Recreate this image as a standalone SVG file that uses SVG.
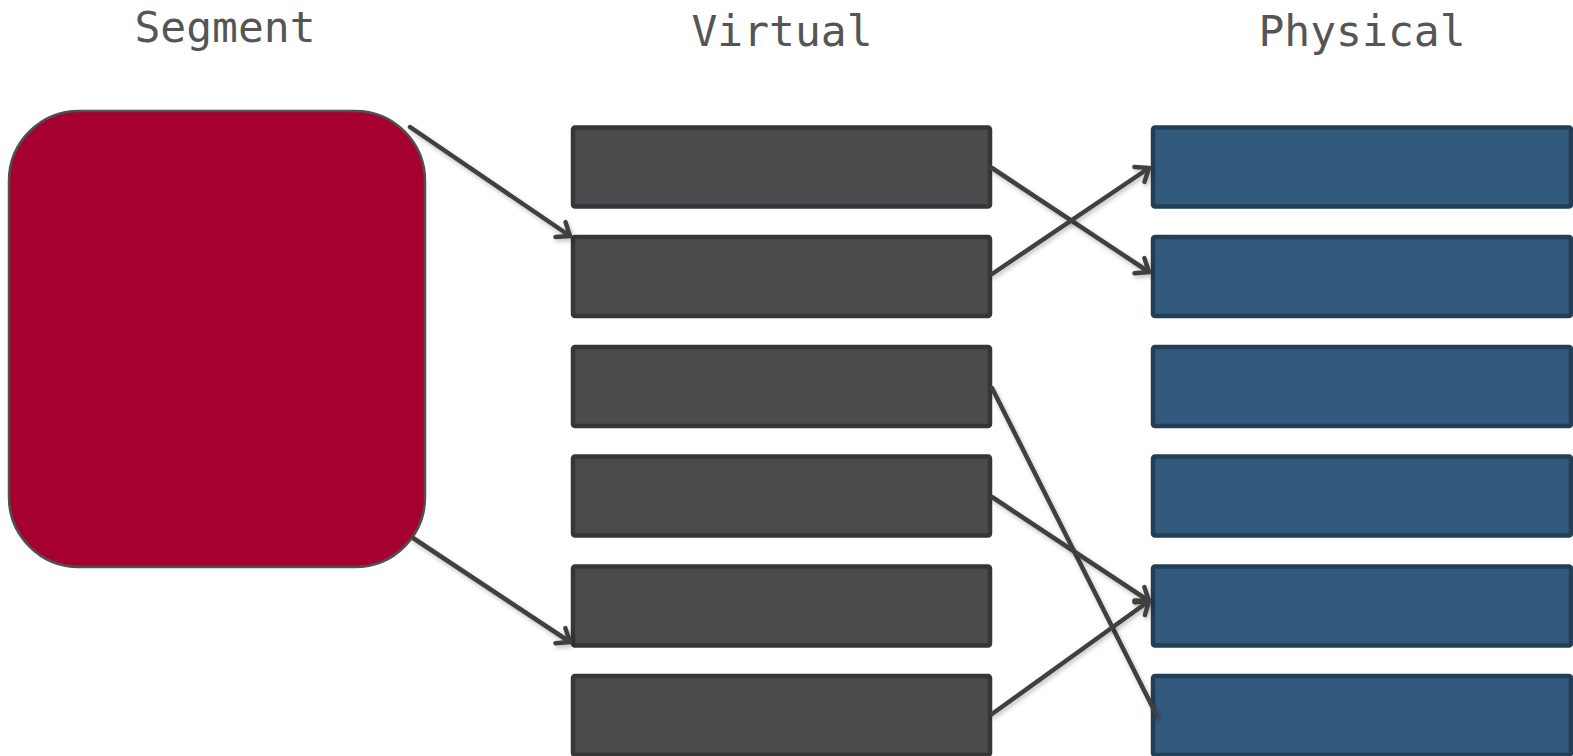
<svg xmlns="http://www.w3.org/2000/svg" width="1573" height="756" viewBox="0 0 1573 756">
  <style>
    .title { font-family: "DejaVu Sans Mono", "Liberation Mono", monospace; font-size: 43px; fill: #555555; text-anchor: middle; }
    .virt { fill: #4A4B4D; stroke: #353638; stroke-width: 4.5; }
    .phys { fill: #325A7C; stroke: #233F58; stroke-width: 4.5; }
    .seg { fill: #A50030; stroke: #505050; stroke-width: 2.5; }
    .link { fill: none; stroke: #404040; stroke-width: 4.5; stroke-linecap: round; filter: url(#shadow); }
  </style>
  <defs>
    <!-- open chevron arrowhead for the mapping links -->
    <marker id="head" markerWidth="10" markerHeight="10" refX="8.5" refY="5" orient="auto" markerUnits="userSpaceOnUse" viewBox="0 0 10 10" overflow="visible">
      <path d="M -3 -4 L 8.5 5 L -3 14" fill="none" stroke="#404040" stroke-width="4.5" stroke-linecap="round" stroke-linejoin="round"/>
    </marker>
    <filter id="shadow" x="-10%" y="-10%" width="120%" height="130%">
      <feDropShadow dx="1.5" dy="2.5" stdDeviation="2" flood-color="#000" flood-opacity="0.25"/>
    </filter>
  </defs>
  <rect width="1573" height="756" fill="#FFFFFF"/>

  <text class="title" x="225" y="42">Segment</text>
  <text class="title" x="782" y="46">Virtual</text>
  <text class="title" x="1362" y="46">Physical</text>

  <g id="segment">
    <rect class="seg" x="9" y="111" width="416" height="456" rx="70" ry="70"/>
  </g>

  <g id="virtual">
    <rect id="v1" class="virt" x="573" y="127.5" width="417" height="79" rx="2"/>
    <rect id="v2" class="virt" x="573" y="237" width="417" height="79" rx="2"/>
    <rect id="v3" class="virt" x="573" y="347" width="417" height="79" rx="2"/>
    <rect id="v4" class="virt" x="573" y="456.5" width="417" height="79" rx="2"/>
    <rect id="v5" class="virt" x="573" y="566.5" width="417" height="79" rx="2"/>
    <rect id="v6" class="virt" x="573" y="676" width="417" height="79" rx="2"/>
  </g>

  <g id="physical">
    <rect id="p1" class="phys" x="1153" y="127.5" width="418" height="79" rx="2"/>
    <rect id="p2" class="phys" x="1153" y="237" width="418" height="79" rx="2"/>
    <rect id="p3" class="phys" x="1153" y="347" width="418" height="79" rx="2"/>
    <rect id="p4" class="phys" x="1153" y="456.5" width="418" height="79" rx="2"/>
    <rect id="p5" class="phys" x="1153" y="566.5" width="418" height="79" rx="2"/>
    <rect id="p6" class="phys" x="1153" y="676" width="418" height="79" rx="2"/>
  </g>

  <g id="connectors">
    <line class="link" x1="410" y1="127" x2="570" y2="236" marker-end="url(#head)"/>
    <line class="link" x1="413" y1="538" x2="570" y2="642" marker-end="url(#head)"/>
    <line class="link" x1="992" y1="168" x2="1149" y2="272" marker-end="url(#head)"/>
    <line class="link" x1="992" y1="274" x2="1149" y2="168" marker-end="url(#head)"/>
    <line class="link" x1="992" y1="388" x2="1157" y2="716"/>
    <line class="link" x1="992" y1="497" x2="1149" y2="601" marker-end="url(#head)"/>
    <line class="link" x1="992" y1="714" x2="1149" y2="601" marker-end="url(#head)"/>
  </g>
</svg>
